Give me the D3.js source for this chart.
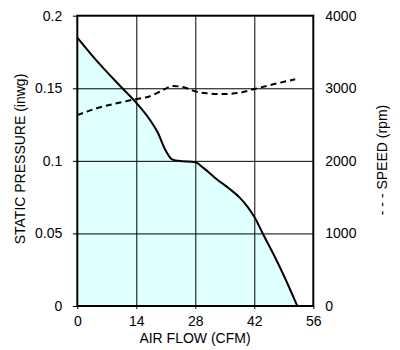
<!DOCTYPE html>
<html>
<head>
<meta charset="utf-8">
<script src="https://cdn.jsdelivr.net/npm/d3@7/dist/d3.min.js"></script>
<style>
  html, body { margin: 0; padding: 0; background: #fff; }
  svg text { font-family: "Liberation Sans", Arial, Helvetica, sans-serif; font-size: 14px; fill: #000; }
</style>
</head>
<body>
<svg id="chart" width="400" height="350"></svg>
<script>
// Fan performance: static pressure and speed against air flow
const flowTicks = [0, 14, 28, 42, 56];
const pressureTicks = [0, 0.05, 0.1, 0.15, 0.2];
const pressureTickLabels = ["0", "0.05", "0.1", "0.15", "0.2"];
const speedTicks = [0, 1000, 2000, 3000, 4000];

// Pressure curve (CFM, inwg)
const pressureFlow = [0, 4, 10.7, 14, 17.3, 19, 21, 22.5, 24, 28, 30, 33, 36, 38.6, 40.5, 42.2, 44, 46.5, 49, 52.2];
const pressureValues = [0.185, 0.171, 0.15, 0.14, 0.128, 0.12, 0.107, 0.101, 0.1, 0.099, 0.095, 0.0875, 0.081, 0.0745, 0.068, 0.0605, 0.05, 0.036, 0.021, 0];

// Fan speed curve (CFM, rpm)
const speedFlow = [0, 4.6, 9.35, 13.7, 16.9, 19.6, 22.8, 26, 27.5, 30.7, 34.6, 38.6, 41.8, 46.5, 51.7];
const speedValues = [2630, 2724, 2793, 2848, 2884, 2953, 3031, 3000, 2967, 2931, 2921, 2939, 2986, 3055, 3124];

const svg = d3.select("#chart");
const plotLeft = 77.3, plotRight = 313.3, plotTop = 15.7, plotBottom = 306;

const x = d3.scaleLinear().domain([0, 56]).range([plotLeft, plotRight]);
const y = d3.scaleLinear().domain([0, 0.2]).range([plotBottom, plotTop]);
const ySpeed = d3.scaleLinear().domain([0, 4000]).range([plotBottom, plotTop]);

const pressure = pressureFlow.map((f, i) => ({ f, v: pressureValues[i] }));
const speed = speedFlow.map((f, i) => ({ f, v: speedValues[i] }));

// Shaded operating region under the pressure curve
svg.append("path")
  .datum(pressure)
  .attr("fill", "#e0ffff")
  .attr("d", d3.area().x(d => x(d.f)).y0(y(0)).y1(d => y(d.v)).curve(d3.curveMonotoneX));

// Grid lines
const gridX = svg.append("g")
  .attr("transform", `translate(0,${plotBottom})`)
  .call(d3.axisBottom(x).tickValues([14, 28, 42]).tickSize(-(plotBottom - plotTop)).tickFormat(""));
const gridY = svg.append("g")
  .attr("transform", `translate(${plotLeft},0)`)
  .call(d3.axisLeft(y).tickValues([0.05, 0.1, 0.15]).tickSize(-(plotRight - plotLeft)).tickFormat(""));
[gridX, gridY].forEach(g => {
  g.select(".domain").remove();
  g.selectAll(".tick line").attr("stroke", "#000").attr("stroke-width", 1);
});

// Axes with labels
const axisLeft = svg.append("g")
  .attr("transform", `translate(${plotLeft},0)`)
  .call(d3.axisLeft(y).tickValues(pressureTicks)
    .tickFormat((d, i) => pressureTickLabels[i]).tickSize(4.5).tickPadding(10.5));
const axisRight = svg.append("g")
  .attr("transform", `translate(${plotRight},0)`)
  .call(d3.axisRight(ySpeed).tickValues(speedTicks).tickFormat(d3.format("d")).tickSize(0).tickPadding(12));
const axisBottom = svg.append("g")
  .attr("transform", `translate(0,${plotBottom})`)
  .call(d3.axisBottom(x).tickValues(flowTicks).tickFormat(d3.format("d")).tickSize(3).tickPadding(7));
[axisLeft, axisRight, axisBottom].forEach(g => {
  g.select(".domain").remove();
  g.attr("font-family", null).attr("font-size", null);
  g.selectAll(".tick line").attr("stroke", "#000");
  g.selectAll(".tick text").attr("fill", "#000");
});

// Speed curve (dashed)
svg.append("path")
  .datum(speed)
  .attr("fill", "none")
  .attr("stroke", "#000")
  .attr("stroke-width", 2)
  .attr("stroke-dasharray", "6,4")
  .attr("d", d3.line().x(d => x(d.f)).y(d => ySpeed(d.v)).curve(d3.curveMonotoneX));

// Pressure curve
svg.append("path")
  .datum(pressure)
  .attr("fill", "none")
  .attr("stroke", "#000")
  .attr("stroke-width", 2)
  .attr("d", d3.line().x(d => x(d.f)).y(d => y(d.v)).curve(d3.curveMonotoneX));

// Plot frame
svg.append("rect")
  .attr("x", plotLeft).attr("y", plotTop)
  .attr("width", plotRight - plotLeft).attr("height", plotBottom - plotTop)
  .attr("fill", "none").attr("stroke", "#000").attr("stroke-width", 2);

// Axis titles
svg.append("text")
  .attr("transform", `translate(25,159) rotate(-90)`)
  .attr("text-anchor", "middle")
  .text("STATIC PRESSURE (inwg)");
svg.append("text")
  .attr("transform", `translate(387,160) rotate(-90)`)
  .attr("text-anchor", "middle")
  .text("- - - SPEED (rpm)");
svg.append("text")
  .attr("x", 195).attr("y", 343)
  .attr("text-anchor", "middle")
  .text("AIR FLOW (CFM)");
</script>
</body>
</html>
